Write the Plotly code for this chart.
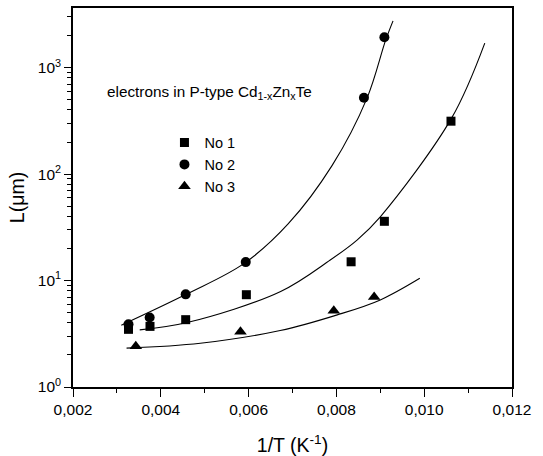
import plotly.graph_objects as go

# Measured data
x_no1 = [0.003264, 0.003754, 0.004567, 0.005949, 0.008335, 0.009093, 0.010610]
y_no1 = [3.48, 3.71, 4.29, 7.36, 15.0, 36.0, 314]
x_no2 = [0.003264, 0.003746, 0.004567, 0.005935, 0.008627, 0.009093]
y_no2 = [3.88, 4.49, 7.42, 14.9, 521, 1932]
x_no3 = [0.003430, 0.005815, 0.007940, 0.008860]
y_no3 = [2.41, 3.30, 5.19, 7.0]

# Fitted curves
fx_no1 = [0.00352, 0.0046, 0.00673, 0.00786, 0.00847, 0.0090, 0.01063, 0.01138]
fy_no1 = [3.44, 4.03, 7.9, 15.6, 24.0, 39.7, 339, 1700]
fx_no2 = [0.00310, 0.0046, 0.0059, 0.0069, 0.0079, 0.0087, 0.00912, 0.00929]
fy_no2 = [3.8, 7.5, 14.5, 34, 120, 520, 1800, 2750]
fx_no3 = [0.00322, 0.0049, 0.00672, 0.00802, 0.0090, 0.0099]
fy_no3 = [2.32, 2.58, 3.39, 4.76, 6.58, 10.5]

y_tickvals = [1, 10, 100, 1000]
y_ticktext = ["10<sup>0</sup>", "10<sup>1</sup>", "10<sup>2</sup>", "10<sup>3</sup>"]
y_minor = [m * 10 ** e for e in range(0, 4) for m in range(2, 10) if m * 10 ** e < 3700]
x_tickvals = [0.002, 0.004, 0.006, 0.008, 0.010, 0.012]
x_ticktext = ["0,002", "0,004", "0,006", "0,008", "0,010", "0,012"]
x_minor = [0.003, 0.005, 0.007, 0.009, 0.011]

FONT = "Liberation Sans, Arial"
fig = go.Figure()
for fx, fy in [(fx_no1, fy_no1), (fx_no2, fy_no2), (fx_no3, fy_no3)]:
    fig.add_trace(go.Scatter(x=fx, y=fy, mode="lines", line=dict(color="black", width=1.1, shape="spline"),
                             showlegend=False, hoverinfo="skip"))

fig.add_trace(go.Scatter(x=x_no1, y=y_no1, mode="markers", name="No 1",
                         marker=dict(symbol="square", size=9, color="black")))
fig.add_trace(go.Scatter(x=x_no2, y=y_no2, mode="markers", name="No 2",
                         marker=dict(symbol="circle", size=10, color="black")))
fig.add_trace(go.Scatter(x=x_no3, y=y_no3, mode="markers", name="No 3",
                         marker=dict(symbol="triangle-up", size=11, color="black")))

axis_font = dict(family=FONT, size=15.5, color="black")
fig.update_xaxes(range=[0.002, 0.012], tickvals=x_tickvals, ticktext=x_ticktext,
                 ticks="outside", ticklen=8, tickwidth=1.3, tickcolor="black",
                 minor=dict(tickvals=x_minor, ticks="outside", ticklen=4, tickwidth=1.3, tickcolor="black"),
                 showline=True, linecolor="black", linewidth=1.6, mirror=True, showgrid=False, zeroline=False,
                 tickfont=axis_font, automargin=False,
                 title=dict(text="1/T (K<sup>-1</sup>)", font=dict(family=FONT, size=19.5, color="black"),
                            standoff=22))
fig.update_yaxes(type="log", range=[0, 3.56], tickvals=y_tickvals, ticktext=y_ticktext,
                 ticks="outside", ticklen=7, tickwidth=1.3, tickcolor="black",
                 minor=dict(tickvals=y_minor, ticks="outside", ticklen=4, tickwidth=1.2, tickcolor="black"),
                 showline=True, linecolor="black", linewidth=1.6, mirror=True, showgrid=False, zeroline=False,
                 tickfont=axis_font, automargin=False,
                 title=dict(text="L(μm)", font=dict(family=FONT, size=19.5, color="black"),
                            standoff=8))

fig.add_annotation(text="electrons in P-type Cd<sub>1-x</sub>Zn<sub>x</sub>Te", xref="paper", yref="paper",
                   x=(104.5 - 72.5) / 439.2, y=(387.3 - 92.3) / 379.6, xanchor="left", yanchor="middle",
                   showarrow=False, font=dict(family=FONT, size=15.3, color="black"))

fig.update_layout(
    width=543, height=456,
    margin=dict(l=72.5, r=31.3, t=7.7, b=68.7),
    paper_bgcolor="white", plot_bgcolor="white",
    showlegend=True,
    legend=dict(x=(164 - 72.5) / 439.2, y=(387.3 - 126.5) / 379.6, xanchor="left", yanchor="top",
                bgcolor="rgba(0,0,0,0)", borderwidth=0,
                font=dict(family=FONT, size=14.5, color="black")),
)
fig.write_html("out.html")
